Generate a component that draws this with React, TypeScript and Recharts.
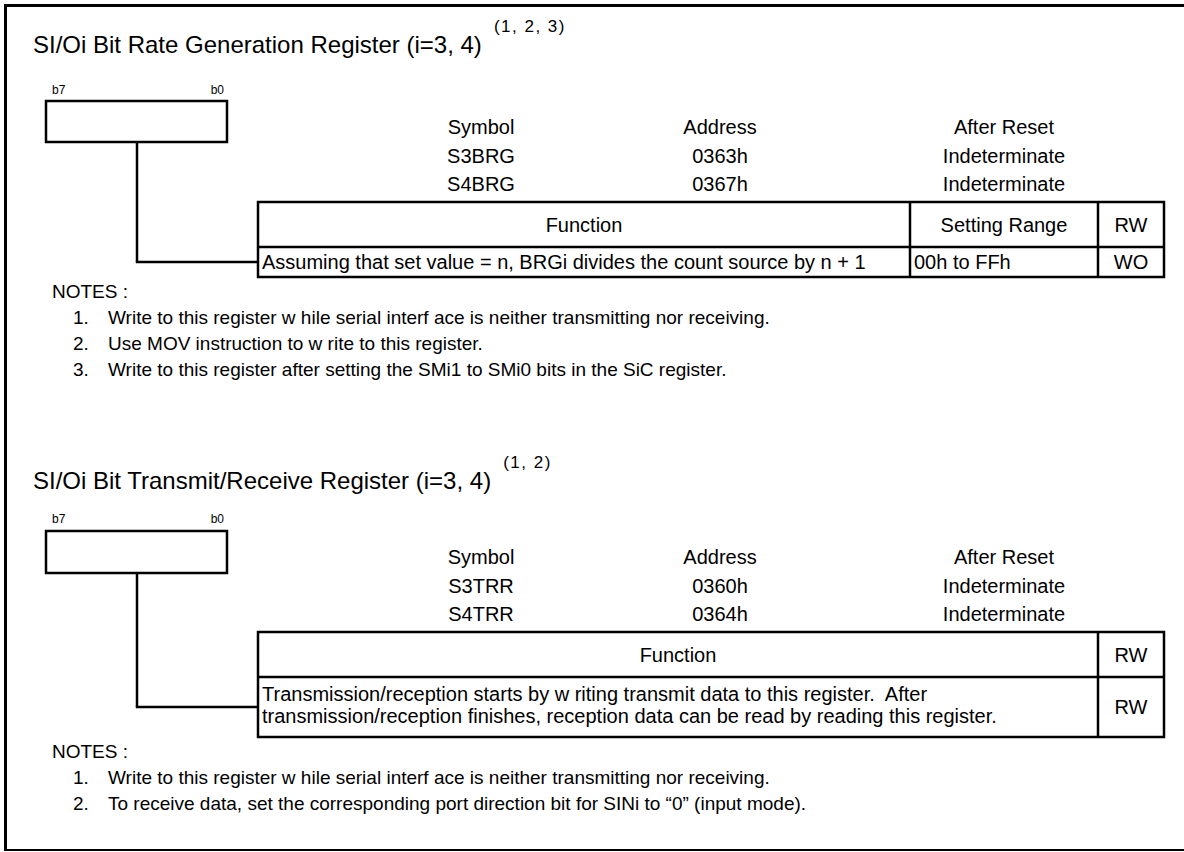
import React from "react";
import {
  ComposedChart,
  ReferenceArea,
  ReferenceLine,
  Scatter,
  XAxis,
  YAxis,
} from "recharts";

const W = 1184;
const H = 852;
const FONT = "'Liberation Sans', Arial, sans-serif";

// column heads shared by both registers
const columnHeads = ["Symbol", "Address", "After Reset"];
const bitLabels = ["b7", "b0"];
const notesHead = "NOTES :";

// bit rate generation register
const brgTitle = "SI/Oi Bit Rate Generation Register (i=3, 4)";
const brgRefs = "(1, 2, 3)";
const brgSymbols = ["S3BRG", "S4BRG"];
const brgAddresses = ["0363h", "0367h"];
const brgResets = ["Indeterminate", "Indeterminate"];
const brgHeader = ["Function", "Setting Range", "RW"];
const brgFunction = ["Assuming that set value = n, BRGi divides the count source by n + 1"];
const brgRange = "00h to FFh";
const brgAccess = "WO";
const brgNotes = [
  "Write to this register w hile serial interf ace is neither transmitting nor receiving.",
  "Use MOV instruction to w rite to this register.",
  "Write to this register after setting the SMi1 to SMi0 bits in the SiC register.",
];

// transmit/receive register
const trrTitle = "SI/Oi Bit Transmit/Receive Register (i=3, 4)";
const trrRefs = "(1, 2)";
const trrSymbols = ["S3TRR", "S4TRR"];
const trrAddresses = ["0360h", "0364h"];
const trrResets = ["Indeterminate", "Indeterminate"];
const trrHeader = ["Function", "RW"];
const trrFunction = [
  "Transmission/reception starts by w riting transmit data to this register.  After",
  "transmission/reception finishes, reception data can be read by reading this register.",
];
const trrAccess = "RW";
const trrNotes = [
  "Write to this register w hile serial interf ace is neither transmitting nor receiving.",
  "To receive data, set the corresponding port direction bit for SINi to \u201c0\u201d (input mode).",
];

type Label = {
  x: number;
  y: number;
  text: string;
  size: number;
  anchor: "start" | "middle" | "end";
  sup?: string;
};

type Layout = {
  titleY: number;
  bitY: number;
  boxTop: number;
  boxBottom: number;
  rowYs: number[];
  tableTop: number;
  headBottom: number;
  tableBottom: number;
  fnYs: number[];
  notesY: number;
  dividers: number[];
};

const col = { symbol: 481, address: 720, reset: 1004 };
const box = { left: 46, right: 227, stem: 137 };
const table = { left: 258, right: 1164 };
const notesX = { head: 52, num: 73, text: 108 };
const noteStep = 26;
const TEXT = 20;
const NOTE = 19;

const brgLayout: Layout = {
  titleY: 45,
  bitY: 90,
  boxTop: 101,
  boxBottom: 142,
  rowYs: [127, 156, 184],
  tableTop: 202,
  headBottom: 247,
  tableBottom: 277,
  fnYs: [262],
  notesY: 291,
  dividers: [910, 1098],
};

const trrLayout: Layout = {
  titleY: 481,
  bitY: 519,
  boxTop: 531,
  boxBottom: 573,
  rowYs: [557, 586, 614],
  tableTop: 632,
  headBottom: 677,
  tableBottom: 737,
  fnYs: [694, 716],
  notesY: 751,
  dividers: [1098],
};

function sectionLabels(
  L: Layout,
  title: string,
  refs: string,
  symbols: string[],
  addresses: string[],
  resets: string[],
  header: string[],
  fnLines: string[],
  cells: string[],
  notes: string[]
): Label[] {
  const out: Label[] = [];
  out.push({ x: 33, y: L.titleY, text: title, size: 24, anchor: "start", sup: refs });
  out.push({ x: box.left + 6, y: L.bitY, text: bitLabels[0], size: 12, anchor: "start" });
  out.push({ x: box.right - 3, y: L.bitY, text: bitLabels[1], size: 12, anchor: "end" });

  const colsX = [col.symbol, col.address, col.reset];
  const colValues = [
    [columnHeads[0], ...symbols],
    [columnHeads[1], ...addresses],
    [columnHeads[2], ...resets],
  ];
  colValues.forEach((vals, ci) =>
    vals.forEach((v, ri) =>
      out.push({ x: colsX[ci], y: L.rowYs[ri], text: v, size: TEXT, anchor: "middle" })
    )
  );

  // header cells centred between dividers
  const edges = [table.left, ...L.dividers, table.right];
  const headY = (L.tableTop + L.headBottom) / 2;
  const rowY = (L.headBottom + L.tableBottom) / 2;
  header.forEach((h, i) =>
    out.push({ x: (edges[i] + edges[i + 1]) / 2, y: headY, text: h, size: TEXT, anchor: "middle" })
  );
  fnLines.forEach((t, i) =>
    out.push({ x: table.left + 4, y: L.fnYs[i], text: t, size: TEXT, anchor: "start" })
  );
  // remaining cells: range left-aligned, access centred
  cells.forEach((c, i) => {
    const ci = i + 1;
    const last = ci === edges.length - 2;
    out.push({
      x: last ? (edges[ci] + edges[ci + 1]) / 2 : edges[ci] + 4,
      y: rowY,
      text: c,
      size: TEXT,
      anchor: last ? "middle" : "start",
    });
  });

  out.push({ x: notesX.head, y: L.notesY, text: notesHead, size: NOTE, anchor: "start" });
  notes.forEach((n, i) => {
    const y = L.notesY + noteStep * (i + 1);
    out.push({ x: notesX.num, y, text: `${i + 1}.`, size: NOTE, anchor: "start" });
    out.push({ x: notesX.text, y, text: n, size: NOTE, anchor: "start" });
  });
  return out;
}

const labels: Label[] = [
  ...sectionLabels(
    brgLayout, brgTitle, brgRefs, brgSymbols, brgAddresses, brgResets,
    brgHeader, brgFunction, [brgRange, brgAccess], brgNotes
  ),
  ...sectionLabels(
    trrLayout, trrTitle, trrRefs, trrSymbols, trrAddresses, trrResets,
    trrHeader, trrFunction, [trrAccess], trrNotes
  ),
];

function renderLabel(props: any) {
  const { cx, cy, payload } = props;
  const p = payload as Label;
  const base = cy + p.size * 0.35;
  return (
    <text
      x={cx}
      y={base}
      fontSize={p.size}
      fontFamily={FONT}
      fill="#000"
      textAnchor={p.anchor}
      style={{ whiteSpace: "pre" }}
    >
      {p.text}
      {p.sup && (
        <tspan dx={12} dy={-21} fontSize={17} letterSpacing={1.5}>
          {p.sup}
        </tspan>
      )}
    </text>
  );
}

function registerShapes(L: Layout, key: string) {
  const stroke = "#000";
  const midRow = L.fnYs.length > 1 ? (L.headBottom + L.tableBottom) / 2 : L.fnYs[0];
  return [
    <ReferenceArea
      key={`${key}-box`}
      x1={box.left}
      x2={box.right}
      y1={L.boxTop}
      y2={L.boxBottom}
      fill="#fff"
      fillOpacity={0}
      stroke={stroke}
      strokeWidth={2.5}
      ifOverflow="visible"
    />,
    <ReferenceLine
      key={`${key}-stem`}
      segment={[
        { x: box.stem, y: L.boxBottom },
        { x: box.stem, y: midRow },
      ]}
      stroke={stroke}
      strokeWidth={2.5}
      ifOverflow="visible"
    />,
    <ReferenceLine
      key={`${key}-arm`}
      segment={[
        { x: box.stem - 1.2, y: midRow },
        { x: table.left, y: midRow },
      ]}
      stroke={stroke}
      strokeWidth={2.5}
      ifOverflow="visible"
    />,
    <ReferenceArea
      key={`${key}-table`}
      x1={table.left}
      x2={table.right}
      y1={L.tableTop}
      y2={L.tableBottom}
      fill="#fff"
      fillOpacity={0}
      stroke={stroke}
      strokeWidth={2.5}
      ifOverflow="visible"
    />,
    <ReferenceLine
      key={`${key}-head`}
      segment={[
        { x: table.left, y: L.headBottom },
        { x: table.right, y: L.headBottom },
      ]}
      stroke={stroke}
      strokeWidth={2.5}
      ifOverflow="visible"
    />,
    ...L.dividers.map((d, i) => (
      <ReferenceLine
        key={`${key}-div${i}`}
        segment={[
          { x: d, y: L.tableTop },
          { x: d, y: L.tableBottom },
        ]}
        stroke={stroke}
        strokeWidth={2.5}
        ifOverflow="visible"
      />
    )),
  ];
}

export default function App() {
  return (
    <div
      style={{
        position: "absolute",
        left: 0,
        top: 0,
        width: W,
        height: H,
        background: "#fff",
      }}
    >
      <ComposedChart
        width={W}
        height={H}
        data={labels}
        margin={{ top: 0, right: 0, bottom: 0, left: 0 }}
      >
        <XAxis type="number" dataKey="x" domain={[0, W]} hide />
        <YAxis type="number" dataKey="y" domain={[0, H]} reversed hide />
        {/* page frame */}
        <ReferenceLine
          segment={[
            { x: 4, y: 5.5 },
            { x: W, y: 5.5 },
          ]}
          stroke="#000"
          strokeWidth={3}
          ifOverflow="visible"
        />
        <ReferenceLine
          segment={[
            { x: 5.5, y: 4 },
            { x: 5.5, y: 851 },
          ]}
          stroke="#000"
          strokeWidth={3}
          ifOverflow="visible"
        />
        <ReferenceLine
          segment={[
            { x: 4, y: 850 },
            { x: W, y: 850 },
          ]}
          stroke="#000"
          strokeWidth={2}
          ifOverflow="visible"
        />
        {registerShapes(brgLayout, "brg")}
        {registerShapes(trrLayout, "trr")}
        <Scatter
          data={labels}
          dataKey="y"
          isAnimationActive={false}
          shape={renderLabel}
        />
      </ComposedChart>
    </div>
  );
}
